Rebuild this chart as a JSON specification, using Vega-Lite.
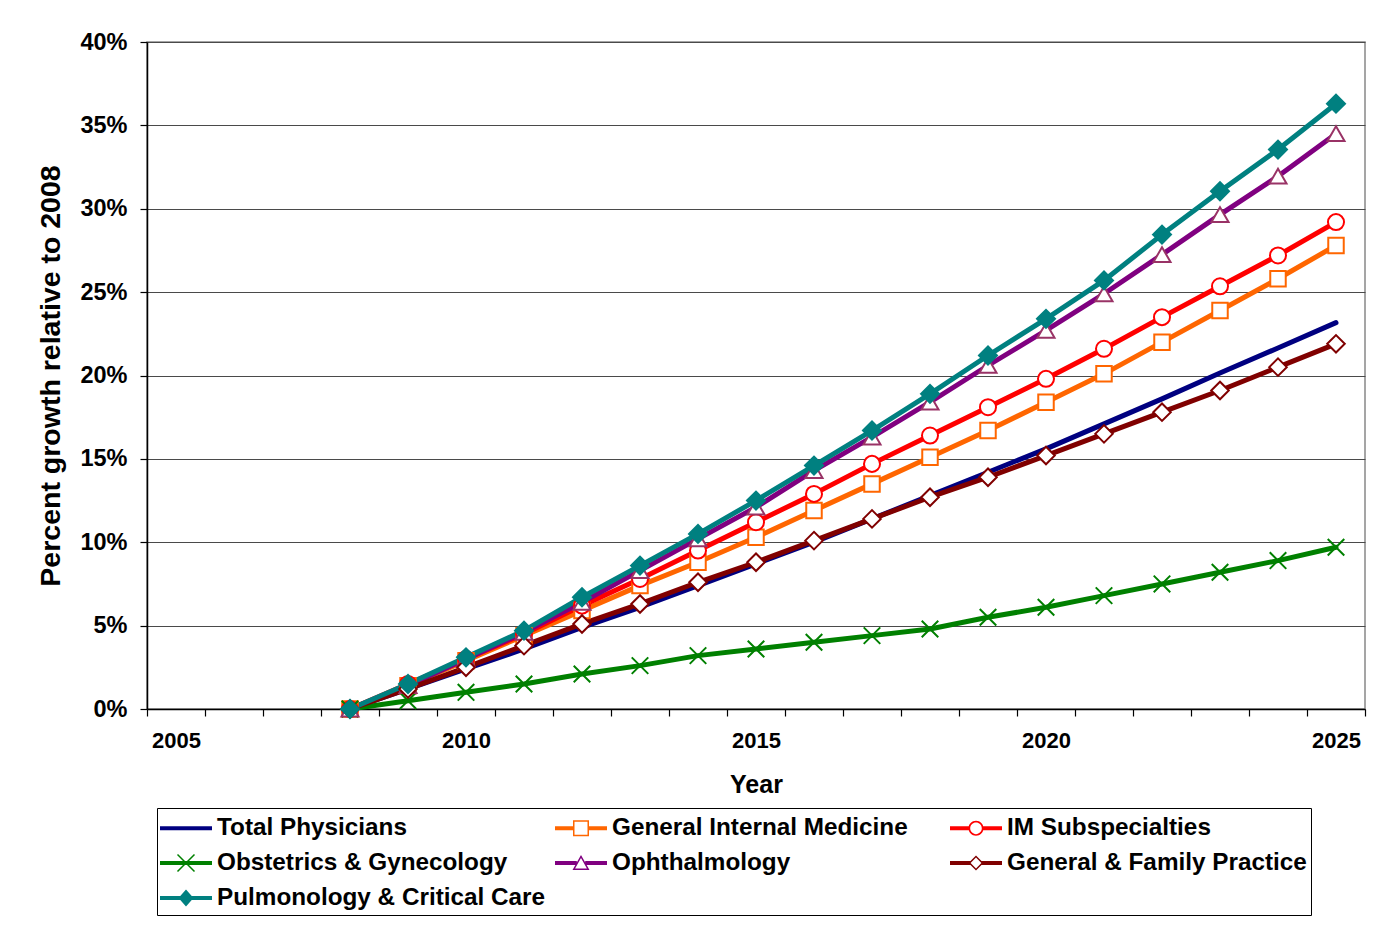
{
  "$schema": "https://vega.github.io/schema/vega-lite/v6.json",
  "width": 1218,
  "height": 667,
  "autosize": {"type": "none"},
  "padding": {"left": 147, "top": 42, "right": 10, "bottom": 225},
  "background": "white",
  "config": {
    "font": "Liberation Sans",
    "view": {"stroke": "#888888", "strokeWidth": 1.5},
    "axis": {
      "labelColor": "black", "titleColor": "black",
      "labelFontWeight": "bold", "titleFontWeight": "bold",
      "domainColor": "black", "tickColor": "black",
      "domainWidth": 1.5, "tickWidth": 1.2
    }
  },
  "data": {"values": [
    {"series": "Total Physicians", "year": 2008, "growth": 0.0},
    {"series": "Total Physicians", "year": 2009, "growth": 0.012},
    {"series": "Total Physicians", "year": 2010, "growth": 0.024},
    {"series": "Total Physicians", "year": 2011, "growth": 0.036},
    {"series": "Total Physicians", "year": 2012, "growth": 0.049},
    {"series": "Total Physicians", "year": 2013, "growth": 0.061},
    {"series": "Total Physicians", "year": 2014, "growth": 0.074},
    {"series": "Total Physicians", "year": 2015, "growth": 0.087},
    {"series": "Total Physicians", "year": 2016, "growth": 0.100},
    {"series": "Total Physicians", "year": 2017, "growth": 0.114},
    {"series": "Total Physicians", "year": 2018, "growth": 0.128},
    {"series": "Total Physicians", "year": 2019, "growth": 0.142},
    {"series": "Total Physicians", "year": 2020, "growth": 0.156},
    {"series": "Total Physicians", "year": 2021, "growth": 0.171},
    {"series": "Total Physicians", "year": 2022, "growth": 0.186},
    {"series": "Total Physicians", "year": 2023, "growth": 0.2015},
    {"series": "Total Physicians", "year": 2024, "growth": 0.2165},
    {"series": "Total Physicians", "year": 2025, "growth": 0.2317},

    {"series": "General Internal Medicine", "year": 2008, "growth": 0.0},
    {"series": "General Internal Medicine", "year": 2009, "growth": 0.014},
    {"series": "General Internal Medicine", "year": 2010, "growth": 0.029},
    {"series": "General Internal Medicine", "year": 2011, "growth": 0.044},
    {"series": "General Internal Medicine", "year": 2012, "growth": 0.059},
    {"series": "General Internal Medicine", "year": 2013, "growth": 0.074},
    {"series": "General Internal Medicine", "year": 2014, "growth": 0.088},
    {"series": "General Internal Medicine", "year": 2015, "growth": 0.103},
    {"series": "General Internal Medicine", "year": 2016, "growth": 0.119},
    {"series": "General Internal Medicine", "year": 2017, "growth": 0.135},
    {"series": "General Internal Medicine", "year": 2018, "growth": 0.151},
    {"series": "General Internal Medicine", "year": 2019, "growth": 0.167},
    {"series": "General Internal Medicine", "year": 2020, "growth": 0.184},
    {"series": "General Internal Medicine", "year": 2021, "growth": 0.201},
    {"series": "General Internal Medicine", "year": 2022, "growth": 0.220},
    {"series": "General Internal Medicine", "year": 2023, "growth": 0.239},
    {"series": "General Internal Medicine", "year": 2024, "growth": 0.258},
    {"series": "General Internal Medicine", "year": 2025, "growth": 0.278},

    {"series": "IM Subspecialties", "year": 2008, "growth": 0.0},
    {"series": "IM Subspecialties", "year": 2009, "growth": 0.015},
    {"series": "IM Subspecialties", "year": 2010, "growth": 0.030},
    {"series": "IM Subspecialties", "year": 2011, "growth": 0.045},
    {"series": "IM Subspecialties", "year": 2012, "growth": 0.062},
    {"series": "IM Subspecialties", "year": 2013, "growth": 0.078},
    {"series": "IM Subspecialties", "year": 2014, "growth": 0.095},
    {"series": "IM Subspecialties", "year": 2015, "growth": 0.112},
    {"series": "IM Subspecialties", "year": 2016, "growth": 0.129},
    {"series": "IM Subspecialties", "year": 2017, "growth": 0.147},
    {"series": "IM Subspecialties", "year": 2018, "growth": 0.164},
    {"series": "IM Subspecialties", "year": 2019, "growth": 0.181},
    {"series": "IM Subspecialties", "year": 2020, "growth": 0.198},
    {"series": "IM Subspecialties", "year": 2021, "growth": 0.216},
    {"series": "IM Subspecialties", "year": 2022, "growth": 0.235},
    {"series": "IM Subspecialties", "year": 2023, "growth": 0.2535},
    {"series": "IM Subspecialties", "year": 2024, "growth": 0.272},
    {"series": "IM Subspecialties", "year": 2025, "growth": 0.292},

    {"series": "Obstetrics & Gynecology", "year": 2008, "growth": 0.0},
    {"series": "Obstetrics & Gynecology", "year": 2009, "growth": 0.005},
    {"series": "Obstetrics & Gynecology", "year": 2010, "growth": 0.010},
    {"series": "Obstetrics & Gynecology", "year": 2011, "growth": 0.015},
    {"series": "Obstetrics & Gynecology", "year": 2012, "growth": 0.021},
    {"series": "Obstetrics & Gynecology", "year": 2013, "growth": 0.026},
    {"series": "Obstetrics & Gynecology", "year": 2014, "growth": 0.032},
    {"series": "Obstetrics & Gynecology", "year": 2015, "growth": 0.036},
    {"series": "Obstetrics & Gynecology", "year": 2016, "growth": 0.040},
    {"series": "Obstetrics & Gynecology", "year": 2017, "growth": 0.044},
    {"series": "Obstetrics & Gynecology", "year": 2018, "growth": 0.048},
    {"series": "Obstetrics & Gynecology", "year": 2019, "growth": 0.055},
    {"series": "Obstetrics & Gynecology", "year": 2020, "growth": 0.061},
    {"series": "Obstetrics & Gynecology", "year": 2021, "growth": 0.068},
    {"series": "Obstetrics & Gynecology", "year": 2022, "growth": 0.075},
    {"series": "Obstetrics & Gynecology", "year": 2023, "growth": 0.082},
    {"series": "Obstetrics & Gynecology", "year": 2024, "growth": 0.089},
    {"series": "Obstetrics & Gynecology", "year": 2025, "growth": 0.097},

    {"series": "Ophthalmology", "year": 2008, "growth": 0.0},
    {"series": "Ophthalmology", "year": 2009, "growth": 0.014},
    {"series": "Ophthalmology", "year": 2010, "growth": 0.030},
    {"series": "Ophthalmology", "year": 2011, "growth": 0.046},
    {"series": "Ophthalmology", "year": 2012, "growth": 0.064},
    {"series": "Ophthalmology", "year": 2013, "growth": 0.083},
    {"series": "Ophthalmology", "year": 2014, "growth": 0.102},
    {"series": "Ophthalmology", "year": 2015, "growth": 0.121},
    {"series": "Ophthalmology", "year": 2016, "growth": 0.143},
    {"series": "Ophthalmology", "year": 2017, "growth": 0.163},
    {"series": "Ophthalmology", "year": 2018, "growth": 0.184},
    {"series": "Ophthalmology", "year": 2019, "growth": 0.206},
    {"series": "Ophthalmology", "year": 2020, "growth": 0.227},
    {"series": "Ophthalmology", "year": 2021, "growth": 0.249},
    {"series": "Ophthalmology", "year": 2022, "growth": 0.2725},
    {"series": "Ophthalmology", "year": 2023, "growth": 0.2965},
    {"series": "Ophthalmology", "year": 2024, "growth": 0.3195},
    {"series": "Ophthalmology", "year": 2025, "growth": 0.345},

    {"series": "General & Family Practice", "year": 2008, "growth": 0.0},
    {"series": "General & Family Practice", "year": 2009, "growth": 0.012},
    {"series": "General & Family Practice", "year": 2010, "growth": 0.025},
    {"series": "General & Family Practice", "year": 2011, "growth": 0.038},
    {"series": "General & Family Practice", "year": 2012, "growth": 0.051},
    {"series": "General & Family Practice", "year": 2013, "growth": 0.063},
    {"series": "General & Family Practice", "year": 2014, "growth": 0.076},
    {"series": "General & Family Practice", "year": 2015, "growth": 0.088},
    {"series": "General & Family Practice", "year": 2016, "growth": 0.101},
    {"series": "General & Family Practice", "year": 2017, "growth": 0.114},
    {"series": "General & Family Practice", "year": 2018, "growth": 0.127},
    {"series": "General & Family Practice", "year": 2019, "growth": 0.139},
    {"series": "General & Family Practice", "year": 2020, "growth": 0.152},
    {"series": "General & Family Practice", "year": 2021, "growth": 0.165},
    {"series": "General & Family Practice", "year": 2022, "growth": 0.178},
    {"series": "General & Family Practice", "year": 2023, "growth": 0.191},
    {"series": "General & Family Practice", "year": 2024, "growth": 0.205},
    {"series": "General & Family Practice", "year": 2025, "growth": 0.219},

    {"series": "Pulmonology & Critical Care", "year": 2008, "growth": 0.0},
    {"series": "Pulmonology & Critical Care", "year": 2009, "growth": 0.015},
    {"series": "Pulmonology & Critical Care", "year": 2010, "growth": 0.031},
    {"series": "Pulmonology & Critical Care", "year": 2011, "growth": 0.047},
    {"series": "Pulmonology & Critical Care", "year": 2012, "growth": 0.067},
    {"series": "Pulmonology & Critical Care", "year": 2013, "growth": 0.086},
    {"series": "Pulmonology & Critical Care", "year": 2014, "growth": 0.105},
    {"series": "Pulmonology & Critical Care", "year": 2015, "growth": 0.125},
    {"series": "Pulmonology & Critical Care", "year": 2016, "growth": 0.146},
    {"series": "Pulmonology & Critical Care", "year": 2017, "growth": 0.167},
    {"series": "Pulmonology & Critical Care", "year": 2018, "growth": 0.189},
    {"series": "Pulmonology & Critical Care", "year": 2019, "growth": 0.212},
    {"series": "Pulmonology & Critical Care", "year": 2020, "growth": 0.234},
    {"series": "Pulmonology & Critical Care", "year": 2021, "growth": 0.257},
    {"series": "Pulmonology & Critical Care", "year": 2022, "growth": 0.2845},
    {"series": "Pulmonology & Critical Care", "year": 2023, "growth": 0.3105},
    {"series": "Pulmonology & Critical Care", "year": 2024, "growth": 0.3355},
    {"series": "Pulmonology & Critical Care", "year": 2025, "growth": 0.363}
  ]},
  "encoding": {
    "x": {
      "field": "year", "type": "quantitative",
      "scale": {"domain": [2004.5, 2025.5], "nice": false, "zero": false},
      "axis": {
        "values": [2004.5, 2005.5, 2006.5, 2007.5, 2008.5, 2009.5, 2010.5, 2011.5, 2012.5, 2013.5, 2014.5, 2015.5, 2016.5, 2017.5, 2018.5, 2019.5, 2020.5, 2021.5, 2022.5, 2023.5, 2024.5, 2025.5],
        "labelExpr": "(datum.value + 0.5) % 5 === 0 && datum.value < 2025 ? format(datum.value + 0.5, 'd') : ''",
        "labelOffset": 29,
        "grid": false,
        "tickSize": 7,
        "labelPadding": 14,
        "labelFontSize": 22,
        "labelOverlap": false,
        "labelFlush": false,
        "labelBound": false,
        "title": "Year",
        "titleFontSize": 25,
        "titlePadding": 21
      }
    },
    "y": {
      "field": "growth", "type": "quantitative",
      "scale": {"domain": [0, 0.4], "nice": false},
      "axis": {
        "values": [0, 0.05, 0.1, 0.15, 0.2, 0.25, 0.3, 0.35, 0.4],
        "format": ".0%",
        "grid": true,
        "gridColor": "#4a4a4a",
        "gridWidth": 1,
        "tickSize": 7,
        "labelPadding": 13,
        "labelFontSize": 23.5,
        "title": "Percent growth relative to 2008",
        "titleFontSize": 28.5,
        "titlePadding": 14
      }
    }
  },
  "layer": [
    {
      "mark": {"type": "line", "strokeWidth": 5, "strokeJoin": "round", "strokeCap": "round"},
      "encoding": {
        "color": {
          "field": "series", "type": "nominal",
          "scale": {
            "domain": ["Total Physicians", "General Internal Medicine", "IM Subspecialties", "Obstetrics & Gynecology", "Ophthalmology", "General & Family Practice", "Pulmonology & Critical Care"],
            "range": ["#000080", "#FF6600", "#FF0000", "#008000", "#800080", "#800000", "#008080"]
          },
          "legend": {
            "title": null,
            "orient": "none",
            "legendX": 10,
            "legendY": 766,
            "direction": "horizontal",
            "columns": 3,
            "gridAlign": "all",
            "columnPadding": 9,
            "rowPadding": 6,
            "symbolSize": 1024,
            "symbolOffset": 9,
            "labelFont": "Liberation Sans",
            "labelFontSize": 24.3,
            "labelFontWeight": "bold",
            "labelColor": "black",
            "labelOffset": 15,
            "labelLimit": 500,
            "strokeColor": "black",
            "fillColor": "white",
            "padding": 4,
            "encode": {
              "legend": {
                "update": {
                  "width": {"value": 1180}
                }
              },
              "symbols": {
                "update": {
                  "shape": {"signal": "datum.value === 'Total Physicians' ? 'M-1.625,-0.125L1.625,-0.125L1.625,0.125L-1.625,0.125Z' : datum.value === 'General Internal Medicine' ? 'M-1.625,-0.125L-0.4375,-0.125L-0.4375,0.125L-1.625,0.125ZM0.4375,-0.125L1.625,-0.125L1.625,0.125L0.4375,0.125ZM-0.5,-0.5L0.5,-0.5L0.5,0.5L-0.5,0.5ZM-0.406,-0.406L-0.406,0.406L0.406,0.406L0.406,-0.406Z' : datum.value === 'IM Subspecialties' ? 'M-1.625,-0.125L-0.4,-0.125L-0.4,0.125L-1.625,0.125ZM0.4,-0.125L1.625,-0.125L1.625,0.125L0.4,0.125ZM0.469,0C0.469,0.259 0.259,0.469 0,0.469C-0.259,0.469 -0.469,0.259 -0.469,0C-0.469,-0.259 -0.259,-0.469 0,-0.469C0.259,-0.469 0.469,-0.259 0.469,0ZM0.3625,0C0.3625,-0.2002 0.2002,-0.3625 0,-0.3625C-0.2002,-0.3625 -0.3625,-0.2002 -0.3625,0C-0.3625,0.2002 -0.2002,0.3625 0,0.3625C0.2002,0.3625 0.3625,0.2002 0.3625,0Z' : datum.value === 'Obstetrics & Gynecology' ? 'M-1.625,-0.125L1.625,-0.125L1.625,0.125L-1.625,0.125ZM-0.498,-0.564L0.564,0.498L0.498,0.564L-0.564,-0.498ZM-0.498,0.564L-0.564,0.498L0.498,-0.564L0.564,-0.498Z' : datum.value === 'Ophthalmology' ? 'M-1.625,-0.125L-0.2625,-0.125L-0.2625,0.125L-1.625,0.125ZM0.2625,-0.125L1.625,-0.125L1.625,0.125L0.2625,0.125ZM0,-0.5L0.531,0.4375L-0.531,0.4375ZM0,-0.3098L-0.3703,0.3437L0.3703,0.3437Z' : datum.value === 'General & Family Practice' ? 'M-1.625,-0.125L-0.3406,-0.125L-0.3406,0.125L-1.625,0.125ZM0.3406,-0.125L1.625,-0.125L1.625,0.125L0.3406,0.125ZM0,-0.469L0.469,0L0,0.469L-0.469,0ZM0,-0.336L-0.336,0L0,0.336L0.336,0Z' : 'M-1.625,-0.125L1.625,-0.125L1.625,0.125L-1.625,0.125ZM0,-0.531L0.469,0L0,0.531L-0.469,0Z'"},
                  "fill": {"signal": "scale('color', datum.value)"},
                  "stroke": {"value": "transparent"},
                  "strokeWidth": {"value": 0},
                  "opacity": {"value": 1}
                }
              }
            }
          }
        }
      }
    },
    {
      "transform": [{"filter": "datum.series !== 'Total Physicians'"}],
      "mark": {"type": "point", "opacity": 1},
      "encoding": {
        "shape": {
          "field": "series", "type": "nominal", "legend": null,
          "scale": {
            "domain": ["General Internal Medicine", "IM Subspecialties", "Obstetrics & Gynecology", "Ophthalmology", "General & Family Practice", "Pulmonology & Critical Care"],
            "range": ["square", "circle", "M-1,-1L1,1M-1,1L1,-1", "triangle-up", "diamond", "diamond"]
          }
        },
        "fill": {
          "field": "series", "type": "nominal", "legend": null,
          "scale": {
            "domain": ["General Internal Medicine", "IM Subspecialties", "Obstetrics & Gynecology", "Ophthalmology", "General & Family Practice", "Pulmonology & Critical Care"],
            "range": ["#FFFFFF", "#FFFFFF", "transparent", "#FFFFFF", "#FFFFFF", "#008080"]
          }
        },
        "stroke": {
          "field": "series", "type": "nominal", "legend": null,
          "scale": {
            "domain": ["General Internal Medicine", "IM Subspecialties", "Obstetrics & Gynecology", "Ophthalmology", "General & Family Practice", "Pulmonology & Critical Care"],
            "range": ["#FF6600", "#FF0000", "#008000", "#993366", "#800000", "#008080"]
          }
        },
        "size": {
          "field": "series", "type": "nominal", "legend": null,
          "scale": {
            "domain": ["General Internal Medicine", "IM Subspecialties", "Obstetrics & Gynecology", "Ophthalmology", "General & Family Practice", "Pulmonology & Critical Care"],
            "range": [240, 324, 400, 400, 330, 420]
          }
        },
        "strokeWidth": {
          "field": "series", "type": "nominal", "legend": null,
          "scale": {
            "domain": ["General Internal Medicine", "IM Subspecialties", "Obstetrics & Gynecology", "Ophthalmology", "General & Family Practice", "Pulmonology & Critical Care"],
            "range": [2, 2, 1.5, 2, 2, 1.5]
          }
        }
      }
    }
  ]
}
